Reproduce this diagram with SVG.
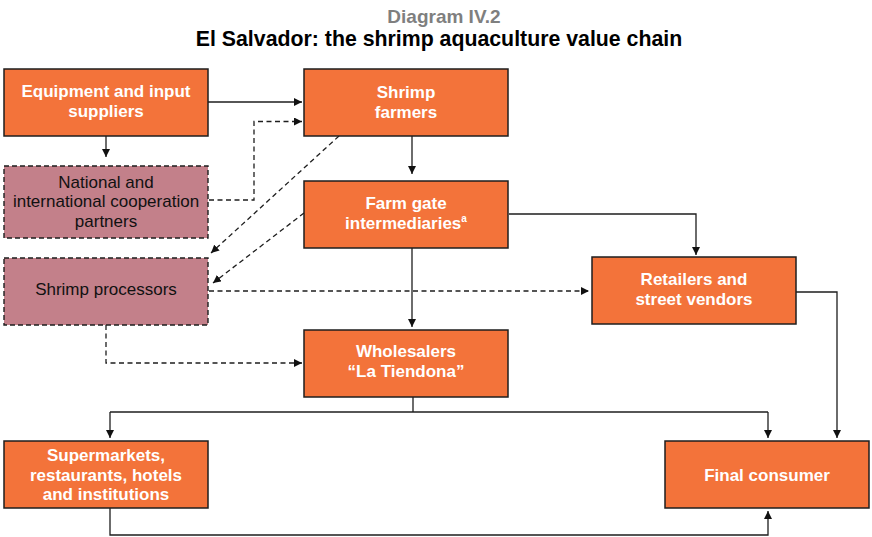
<svg xmlns="http://www.w3.org/2000/svg" width="872" height="537" viewBox="0 0 872 537">
  <style>
    .box { fill: #f3733a; stroke: #1e1e1e; stroke-width: 1.5; }
    .dbox { fill: #c3808a; stroke: #1e1e1e; stroke-width: 1.4; stroke-dasharray: 5 3; }
    .lbl { font-family: "Liberation Sans", Arial, sans-serif; font-size: 17px; font-weight: bold; fill: #ffffff; text-anchor: middle; }
    .dlbl { font-family: "Liberation Sans", Arial, sans-serif; font-size: 17px; fill: #111111; text-anchor: middle; }
    .ln { fill: none; stroke: #1e1e1e; stroke-width: 1.3; }
    .dash { stroke-dasharray: 5 3.5; }
    .title { font-family: "Liberation Sans", Arial, sans-serif; font-weight: bold; text-anchor: middle; }
  </style>
  <defs>
    <marker id="arrow" viewBox="0 0 10 10" refX="10" refY="5" markerWidth="8" markerHeight="8" markerUnits="userSpaceOnUse" orient="auto">
      <path d="M0,0 L10,5 L0,10 Z" fill="#111111"/>
    </marker>
  </defs>

  <!-- heading -->
  <text class="title" x="444" y="23" font-size="19" fill="#7f7f7f">Diagram IV.2</text>
  <text class="title" x="439" y="46" font-size="21.3" fill="#000000">El Salvador: the shrimp aquaculture value chain</text>

  <!-- connectors -->
  <g id="connectors">
    <path class="ln" d="M208,102 H302" marker-end="url(#arrow)"/>
    <path class="ln" d="M106,136 V157" marker-end="url(#arrow)"/>
    <path class="ln dash" d="M209,200 H254 V121.5 H302" marker-end="url(#arrow)"/>
    <path class="ln dash" d="M339,136 L211,253" marker-end="url(#arrow)"/>
    <path class="ln dash" d="M304,213 L213,283" marker-end="url(#arrow)"/>
    <path class="ln" d="M412,136 V174" marker-end="url(#arrow)"/>
    <path class="ln" d="M509,214 H696 V255" marker-end="url(#arrow)"/>
    <path class="ln" d="M412,248 V327" marker-end="url(#arrow)"/>
    <path class="ln dash" d="M209,291 H589" marker-end="url(#arrow)"/>
    <path class="ln dash" d="M106,325 V363 H302" marker-end="url(#arrow)"/>
    <path class="ln" d="M796,292 H837 V438" marker-end="url(#arrow)"/>
    <path class="ln" d="M413,397 V412"/>
    <path class="ln" d="M110,412 H768"/>
    <path class="ln" d="M110,412 V438" marker-end="url(#arrow)"/>
    <path class="ln" d="M768,412 V438" marker-end="url(#arrow)"/>
    <path class="ln" d="M110,508 V535 H768 V511" marker-end="url(#arrow)"/>
  </g>

  <!-- nodes -->
  <g id="equipment">
    <rect class="box" x="4" y="69" width="204" height="67"/>
    <text class="lbl" x="106" y="96.5">Equipment and input</text>
    <text class="lbl" x="106" y="116.5">suppliers</text>
  </g>
  <g id="farmers">
    <rect class="box" x="304" y="69" width="204" height="67"/>
    <text class="lbl" x="406" y="97.5">Shrimp</text>
    <text class="lbl" x="406" y="117.5">farmers</text>
  </g>
  <g id="cooperation">
    <rect class="dbox" x="4" y="166" width="204" height="72"/>
    <text class="dlbl" x="106" y="187.5">National and</text>
    <text class="dlbl" x="106" y="207">international cooperation</text>
    <text class="dlbl" x="106" y="226.5">partners</text>
  </g>
  <g id="intermediaries">
    <rect class="box" x="304" y="181" width="204" height="67"/>
    <text class="lbl" x="406" y="209">Farm gate</text>
    <text class="lbl" x="406" y="229">intermediaries<tspan font-size="10" dy="-7">a</tspan></text>
  </g>
  <g id="processors">
    <rect class="dbox" x="4" y="258" width="204" height="67"/>
    <text class="dlbl" x="106" y="295">Shrimp processors</text>
  </g>
  <g id="retailers">
    <rect class="box" x="592" y="257" width="204" height="67"/>
    <text class="lbl" x="694" y="285">Retailers and</text>
    <text class="lbl" x="694" y="305">street vendors</text>
  </g>
  <g id="wholesalers">
    <rect class="box" x="304" y="330" width="204" height="67"/>
    <text class="lbl" x="406" y="357">Wholesalers</text>
    <text class="lbl" x="406" y="377">“La Tiendona”</text>
  </g>
  <g id="supermarkets">
    <rect class="box" x="4" y="441" width="204" height="67"/>
    <text class="lbl" x="106" y="461">Supermarkets,</text>
    <text class="lbl" x="106" y="480.5">restaurants, hotels</text>
    <text class="lbl" x="106" y="500">and institutions</text>
  </g>
  <g id="consumer">
    <rect class="box" x="665" y="441" width="204" height="67"/>
    <text class="lbl" x="767" y="481">Final consumer</text>
  </g>
</svg>
